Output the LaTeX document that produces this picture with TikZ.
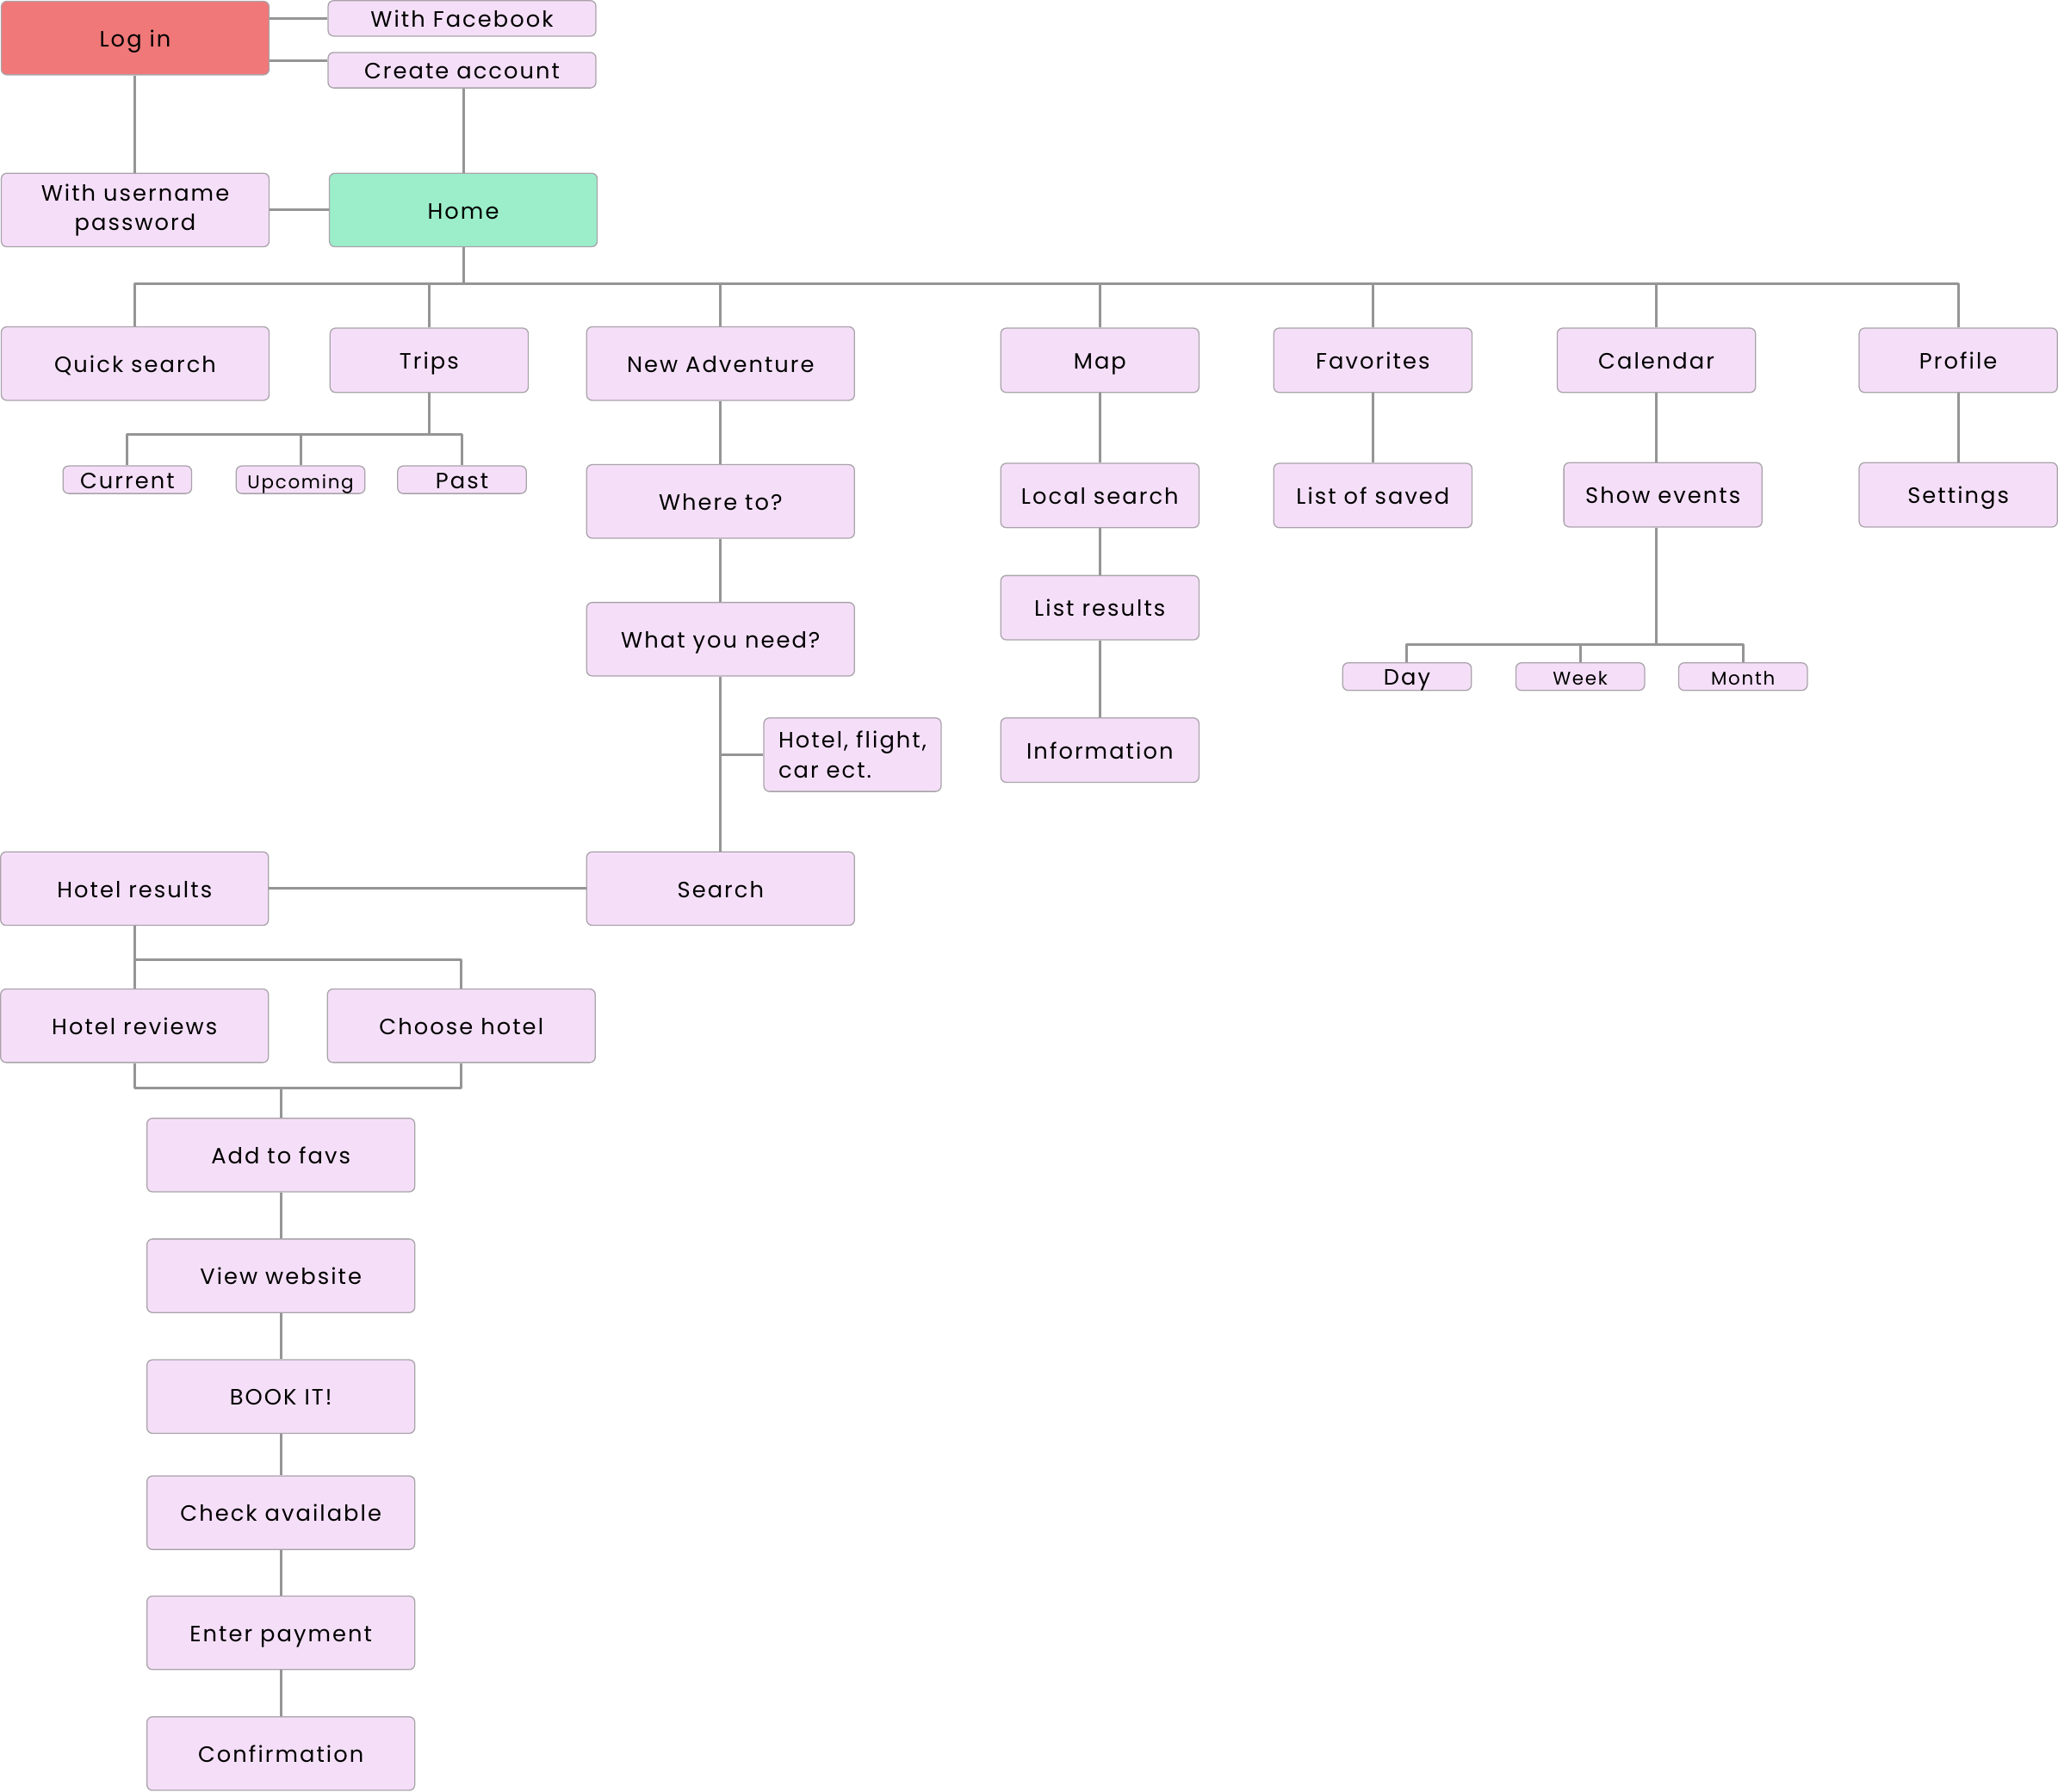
\documentclass[tikz,border=0pt]{standalone}
\usepackage{fontspec}
\setmainfont{Poppins}[LetterSpace=8]
\usetikzlibrary{positioning}
\definecolor{boxfill}{HTML}{F5DFF8}
\definecolor{boxline}{HTML}{A9A3AA}
\definecolor{loginfill}{HTML}{F07878}
\definecolor{homefill}{HTML}{9BEEC9}
\definecolor{wire}{HTML}{959595}
\tikzset{
  box/.style={draw=boxline, fill=boxfill, line width=0.6pt, rounded corners=3pt,
    minimum width=5.1cm, minimum height=1.4cm, inner sep=0pt, text=black,
    font=\fontsize{12}{15}\selectfont, text height=0.95em, text depth=0pt},
  twoline/.style={text height=, text depth=, font=\fontsize{12}{16}\selectfont},
  narrow/.style={box, minimum width=3.775cm, minimum height=1.225cm},
  flat/.style={box, minimum height=0.675cm},
  tiny/.style={box, minimum width=2.45cm, minimum height=0.525cm},
  small/.style={font=\fontsize{10}{12}\selectfont},
  wire/.style={draw=wire, line width=1.4pt}
}
\begin{document}
\begin{tikzpicture}[x=0.025cm, y=-0.025cm, line join=round]
\useasboundingbox (0,0) rectangle (1568,1365);
% login block
\node[box, fill=loginfill] (login) at (103,29) {Log in};
\node[flat] (facebook) at (352,14) {With Facebook};
\node[flat] (create) at (352,53.5) {Create account};
\node[box, twoline, align=center] (username) at (103,160) {With username\\password};
\node[box, fill=homefill] (home) at (353,160) {Home};
% top row
\node[box] (quick) at (103,277) {Quick search};
\node[narrow] (trips) at (327,274.5) {Trips};
\node[box] (newadv) at (549,277) {New Adventure};
\node[narrow] (map) at (838,274.5) {Map};
\node[narrow] (favorites) at (1046,274.5) {Favorites};
\node[narrow] (calendar) at (1262,274.5) {Calendar};
\node[narrow] (profile) at (1492,274.5) {Profile};
% trips
\node[tiny] (current) at (97,365.5) {Current};
\node[tiny, small] (upcoming) at (229,365.5) {Upcoming};
\node[tiny] (past) at (352,365.5) {Past};
% new adventure
\node[box] (whereto) at (549,382) {Where to?};
\node[box] (whatneed) at (549,487) {What you need?};
\node[box, twoline, minimum width=3.375cm, align=left] (hotelflight) at (649.5,575) {Hotel, flight,\\car ect.};
\node[box] (search) at (549,677) {Search};
% map, favorites, calendar, profile
\node[narrow] (localsearch) at (838,377.5) {Local search};
\node[narrow] (listresults) at (838,463) {List results};
\node[narrow] (information) at (838,571.5) {Information};
\node[narrow] (listsaved) at (1046,377.5) {List of saved};
\node[narrow] (showevents) at (1267,377) {Show events};
\node[narrow] (settings) at (1492,377) {Settings};
\node[tiny] (day) at (1072,515.5) {Day};
\node[tiny, small] (week) at (1204,515.5) {Week};
\node[tiny, small] (month) at (1328,515.5) {Month};
% booking chain
\node[box] (hotelres) at (102.5,677) {Hotel results};
\node[box] (reviews) at (102.5,781.5) {Hotel reviews};
\node[box] (choose) at (351.5,781.5) {Choose hotel};
\node[box] (addfavs) at (214,880) {Add to favs};
\node[box] (viewweb) at (214,972) {View website};
\node[box] (bookit) at (214,1064) {BOOK IT!};
\node[box] (checkav) at (214,1152.5) {Check available};
\node[box] (payment) at (214,1244) {Enter payment};
\node[box] (confirm) at (214,1336) {Confirmation};
% junction points
\coordinate (ca) at (0,46);
\coordinate (hb) at (0,216);
\coordinate (tb) at (0,331);
\coordinate (cb) at (0,491);
\coordinate (rb) at (0,731);
\coordinate (jn) at (214,829);
\begin{scope}[wire]
\draw (login.east |- facebook.west) -- (facebook.west);
\draw (login.east |- ca) -- (create.west |- ca);
\draw (login.south) -- (username.north);
\draw (home.north |- create.south) -- (home.north);
\draw (username.east) -- (home.west);
\draw (home.south) -- (home.south |- hb);
\draw (quick.north) |- (hb -| home.south) -| (profile.north);
\foreach \n in {trips,newadv,map,favorites,calendar}
  \draw (\n.north) -- (\n.north |- hb);
\draw (trips.south) -- (trips.south |- tb);
\draw (current.north) |- (trips.south |- tb) -| (past.north);
\draw (upcoming.north) -- (upcoming.north |- tb);
\draw (newadv.south) -- (whereto.north);
\draw (whereto.south) -- (whatneed.north);
\draw (whatneed.south) -- (search.north);
\draw (whatneed.south |- hotelflight.west) -- (hotelflight.west);
\draw (map.south) -- (localsearch.north);
\draw (localsearch.south) -- (listresults.north);
\draw (listresults.south) -- (information.north);
\draw (favorites.south) -- (listsaved.north);
\draw (calendar.south) -- (calendar.south |- showevents.north);
\draw (calendar.south |- showevents.south) -- (calendar.south |- cb);
\draw (day.north) |- (calendar.south |- cb) -| (month.north);
\draw (week.north) -- (week.north |- cb);
\draw (profile.south) -- (settings.north);
\draw (search.west) -- (hotelres.east);
\draw (hotelres.south) -- (reviews.north);
\draw (hotelres.south |- rb) -| (choose.north);
\draw (reviews.south) |- (jn) -| (choose.south);
\draw (jn) -- (addfavs.north);
\draw (addfavs.south) -- (viewweb.north);
\draw (viewweb.south) -- (bookit.north);
\draw (bookit.south) -- (checkav.north);
\draw (checkav.south) -- (payment.north);
\draw (payment.south) -- (confirm.north);
\end{scope}
\end{tikzpicture}
\end{document}
